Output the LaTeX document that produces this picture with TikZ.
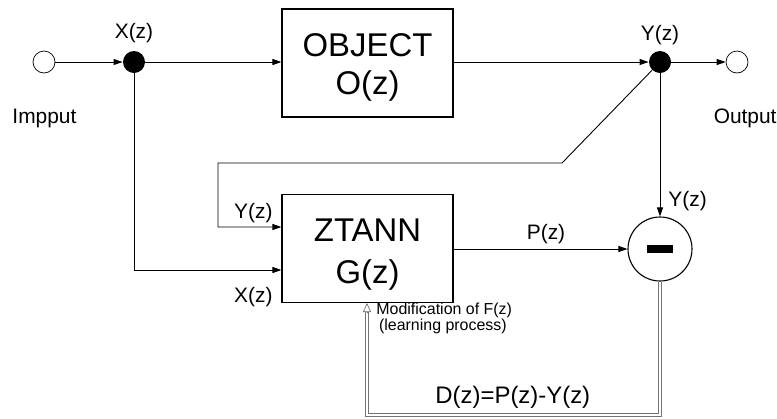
\documentclass[tikz,border=0pt]{standalone}
\usepackage{fontspec}
\setmainfont{Liberation Sans}
\usetikzlibrary{arrows.meta}
\begin{document}
\begin{tikzpicture}[x=1bp,y=-1bp,
  line width=0.9bp,
  arr/.style={-{Triangle[length=9bp,width=6bp]}},
  blk/.style={draw,line width=1.1bp,minimum width=171bp,minimum height=108bp,inner sep=0pt},
  dot/.style={circle,fill,inner sep=0pt,minimum size=22bp},
  term/.style={circle,draw,fill=white,inner sep=0pt,minimum size=22bp,line width=0.7bp},
  big/.style={font=\fontsize{33}{37}\selectfont,anchor=base,inner sep=0pt},
  lab/.style={font=\fontsize{21}{24}\selectfont,inner sep=0pt},
  small/.style={font=\fontsize{16}{16}\selectfont,inner sep=0pt,align=left},
  dbl/.style={draw=black!55,double=white,double distance=2.6bp,line width=0.6bp},
  opentip/.style={draw=black!60,line width=0.6bp,-{Triangle[open,length=9bp,width=8bp,fill=white]}}
]
\useasboundingbox (0,0) rectangle (777,418);

% terminals and junctions
\node[term] (in) at (44,62) {};
\node[dot] (xd) at (134,62) {};
\node[dot] (yd) at (660,62) {};
\node[term] (out) at (737,62) {};

% blocks
\node[blk] (obj) at (367.5,63) {};
\node[blk] (ztann) at (367.5,248.5) {};
\node[circle,draw,line width=1.1bp,minimum size=64bp,inner sep=0pt] (minus) at (660,249) {\rule{26bp}{8bp}};

% block texts
\node[big] (objt1) at (367.5,56) {OBJECT};
\node[big] (objt2) at (367.5,94) {O(z)};
\node[big] (zt1) at (367.5,241) {ZTANN};
\node[big] (zt2) at (367.5,283) {G(z)};

% labels
\node[lab,anchor=base] (lx) at (134,38) {X(z)};
\node[lab,anchor=base] (ly) at (660,40) {Y(z)};
\node[lab,anchor=base west] (limp) at (12,123) {Impput};
\node[lab,anchor=base east] (lout) at (777,123) {Output};
\node[lab,anchor=base east] (lyz) at (273,218) {Y(z)};
\node[lab,anchor=base east] (lxz) at (273,302) {X(z)};
\node[lab,anchor=base west] (lyr) at (668,206) {Y(z)};
\node[lab,anchor=base] (lp) at (546,239) {P(z)};
\node[small,anchor=base west] (lmod) at (376,330) {Modification of F(z)\\[0pt]\,(learning process)};
\node[font=\fontsize{24}{24}\selectfont,inner sep=0pt,anchor=base west] (ld) at (435,403) {D(z)=P(z)-Y(z)};

% coordinates for routing
\coordinate (xturn) at (134,270);
\coordinate (yk) at (562,163);
\coordinate (yc) at (218,163);
\coordinate (yl) at (218,227);
\coordinate (d1) at (660,415);
\coordinate (d2) at (367,415);
\coordinate (tipend) at (d2 |- ztann.south);

% connectors
\draw[arr] (in) -- (xd);
\draw[arr] (xd) -- (obj.west |- xd);
\draw[arr] (obj.east |- yd) -- (yd);
\draw[arr] (yd) -- (out);
\draw[arr] (xd) -- (xturn) -- (ztann.west |- xturn);
\draw[arr] (yd) -- (yk) -- (yc) -- (yl) -- (ztann.west |- yl);
\draw[arr] (yd) -- (minus);
\draw[arr] (ztann.east |- minus) -- (minus);
\draw[dbl] (minus.south) -- (d1) -- (d2) -- ([yshift=-6bp]tipend);
\draw[opentip] ([yshift=-10bp]tipend) -- (tipend);
\end{tikzpicture}
\end{document}
